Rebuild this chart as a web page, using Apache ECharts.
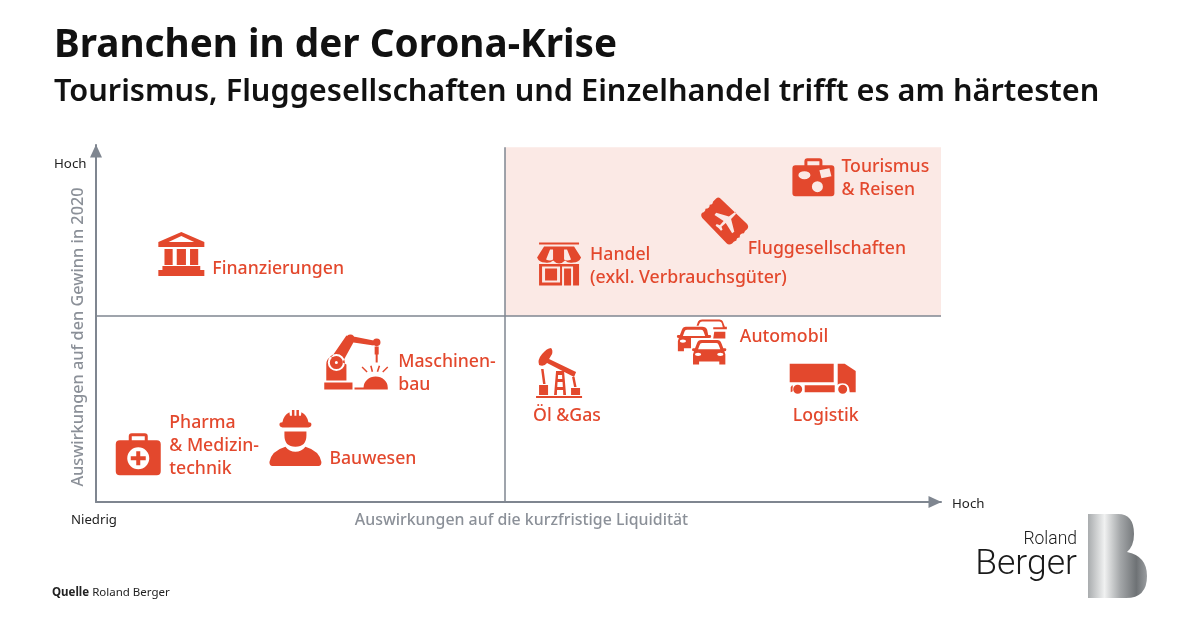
<!DOCTYPE html>
<html lang="de">
<head>
<meta charset="utf-8">
<style>html,body{margin:0;padding:0;background:#fff}#c{width:1200px;height:630px}</style>
<script src="https://cdn.jsdelivr.net/npm/echarts@6/dist/echarts.min.js"></script>
</head>
<body>
<div id="c"></div>
<script>
// ---- data ----
const names = ['Tourismus\n& Reisen','Fluggesellschaften','Handel\n(exkl. Verbrauchsgüter)','Finanzierungen','Maschinen-\nbau','Pharma\n& Medizin-\ntechnik','Bauwesen','Öl &Gas','Automobil','Logistik'];
const liquidity = [84.9,74.4,54.8,10.1,30.8,5.0,23.6,54.8,71.7,86.0];
const profit = [91.0,78.7,66.7,69.5,39.2,13.4,17.9,36.1,44.8,34.5];
const midX = 48.4;
const midY = 52.1;
const xTitle = 'Auswirkungen auf die kurzfristige Liquidität';
const yTitle = 'Auswirkungen auf den Gewinn in 2020';

// ---- styling ----
const RED = '#e3482d', GREY = '#7f8690', FONT = '"Noto Sans", sans-serif';
const car = (x,y) => `M${x+9} ${y}h16q3 0 4 3l2 5h2q1 0 1 1.5q0 1.5 -2 1.5l1 3v10h-6v-3h-20v3h-6v-10l1 -3q-2 0 -2 -1.5q0 -1.5 1 -1.5h2l2 -5q1 -3 4 -3z`
  + `M${x+10} ${y+3}q-2 0 -2.5 2l-1.5 4h22l-1.5 -4q-.5 -2 -2.5 -2z`
  + `M${x+3} ${y+14}a3 1.6 0 1 0 6 0a3 1.6 0 1 0 -6 0z`
  + `M${x+25} ${y+14}a3 1.6 0 1 0 6 0a3 1.6 0 1 0 -6 0z`;
const icons = [
 // suitcase
 'M12 7V3Q12 0 15 0H27Q30 0 30 3V7H27V3H15V7Z M3 7H39Q42 7 42 10V35Q42 38 39 38H3Q0 38 0 35V10Q0 7 3 7Z M6 17a6 4 0 1 0 12 0a6 4 0 1 0 -12 0z M27 12L29 20L39 18L37 10Z M19.5 28.5a5.5 5.5 0 1 0 11 0a5.5 5.5 0 1 0 -11 0z',
 // ticket
 'M15 2Q17 0 19 2L44 27Q46 30 44 32Q41 34 41 36Q37 36 37 40Q34 40 34 43Q31 44 30 46Q27 48 25 46L2 21Q0 18 2 16Q5 15 5 12Q9 12 9 8Q12 8 12 5Z M33 15L27 19.5L15 16L13.5 18L22 24L18.5 28L15.5 27L14.5 28.5L17.5 31L19.5 33.5L21 32.5L20 29.5L24 26L30 36L32 34.5L29 22L33.5 17Z',
 // shop
 'M2 0H42V2H2Z M7 4H37L44 15Q42 20 36 20Q31 21 28 18Q25 21 22 21Q19 21 16 18Q13 21 8 20Q2 20 0 15Z M13 7L9 17Q13 19 16 17L16 7Z M27 7L27 17Q30 19 34 17L30 7Z M2 21.5H42V43H2Z M5 24V40H23V24Z M8 26H20V38H8Z M25 24V43H36V24Z M27 26H34V43H27Z',
 // bank
 'M22.5 0L45 10V15H0V10Z M22.5 4L10 10H35Z M6 17H14V33H6Z M18 17H27V33H18Z M31 17H39V33H31Z M4 34H41V38H45V44H0V38H4Z',
 // robot + spark
 'M0 48H28V55H0Z M2 46V30Q2 24 7 22L22 30V46Z M3.5 28a8.5 8.5 0 1 0 17 0a8.5 8.5 0 1 0 -17 0z M5.5 28a6.5 6.5 0 1 1 13 0a6.5 6.5 0 1 1 -13 0z M10.5 28a1.5 1.5 0 1 0 3 0a1.5 1.5 0 1 0 -3 0z M7 23L22 1L30 6L18 28Z M26 0a4.5 4.5 0 1 1 -.01 0z M29 2L49 6V11L29 8Z M52 4a3.8 3.8 0 1 1 -.01 0z M50 12H54V20H53V28H51V20H50Z M30 53H39A12 11 0 0 1 63 53V55H30Z M37 33L38 32L43 37L42 38Z M45.5 31.5L47 31L48.5 37L47 37.5Z M54 31L55.5 31.5L53.5 37.5L52 37Z M62.5 32L63.5 33L58.5 38L57.5 37Z',
 // medical kit
 'M13 7V3Q13 0 16 0H29Q32 0 32 3V7H29V3H16V7Z M4 7H41Q45 7 45 11V38Q45 42 41 42H4Q0 42 0 38V11Q0 7 4 7Z M11.5 25a11 11 0 1 0 22 0a11 11 0 1 0 -22 0z M20.5 18H24.5V23H30V27H24.5V32H20.5V27H15V23H20.5Z',
 // worker
 'M10 15Q10 13 13 13Q14 6 20 3L20.5 6.5H22.5L22.5 1H25V6.5H27V1H29.5V6.5H31.5L32 3Q38 6 39 13Q42 13 42 15Q42 18 39 18H13Q10 18 10 15Z M15 22H37V26Q37 37 26 37Q15 37 15 26Z M0 52Q2 41 16 37Q20 42 26 42Q32 42 36 37Q50 41 52 52Q52 56 49 56H3Q0 56 0 52Z',
 // pumpjack
 'M0 48H46V50H0Z M3 37H12V47H3Z M35 40H44V47H35Z M3 17Q1 12 6 6Q11 0 15 0Q17 2 16 6L13 11L40 24L38 29L11 15Q8 19 3 17Z M5 21H7.5L9.5 36H7Z M36 29H38.5L40.5 39H38Z M20 23H28L30 47H18Z M22 27L21.8 31H26.2L26 27Z M21.5 34L21.2 39H26.8L26.5 34Z M21 42L20.8 47H27.2L27 42Z',
 // cars
 car(15,20)
  + 'M9 7H25Q29 7 30 10L31 15H33Q34 15 34 16.5Q34 18 32 18H14V28H7V31H1V21L2 18Q0 18 0 16.5Q0 15 1 15H3L5 10Q6 7 9 7Z M10 10Q8 10 7.5 12L6 16H28L26.5 12Q26 10 24 10Z M3 21a3 1.6 0 1 0 6 0a3 1.6 0 1 0 -6 0z'
  + 'M19.5 6L21 2Q22 0 25 0H42Q45 0 46 3L47.5 7H49.5V9.5H36V7.5H45.5L44.5 3.5Q44 2 42 2H25Q23 2 22.5 3.5L21.5 6Z M37 12H48V18.5H36Z',
 // truck
 'M0 0H44V18H0Z M48 0H55L66 7V28H60Q60 19 53 19Q48 19 48 21Z M53 20.5a4.5 4.5 0 1 1 -.01 0z M8 20.5a4.5 4.5 0 1 1 -.01 0z M15 21H45V28H15Z M1 23Q2 21 3 21V23Q2.5 25 3 27L1 28Z'
].map(p => 'path://' + p);
const iconSizes = [[42,38],[47,47],[44,43],[46,44],[64,55],[45,42],[52,56],[46,50],[50,45],[66,30]];
const labelOffsets = [[28,1],[23,28],[31,2.5],[31,15],[42,11],[31,-8],[34,21],[-26,43],[38,-5],[-30,37]];
const LOGO = 'M0 0H30Q46 0 46 20Q46 32 39 38Q59 42 59 62Q59 84 38 84H0Z';

const axisLine = {
  show:true, onZero:false,
  symbol:['none','triangle'], symbolSize:[12,13], symbolOffset:[0,-6],
  lineStyle:{color:GREY,width:2}
};
const plain = (name) => ({
  type:'value', min:0, max:100, name, nameLocation:'middle',
  axisLine, axisTick:{show:false}, axisLabel:{show:false}, splitLine:{show:false}
});
const txt = (x,y,text,size,color,extra) => ({type:'text',x,y,z:10,style:Object.assign({text,fontSize:size,fontFamily:FONT,fill:color},extra||{})});

const chart = echarts.init(document.getElementById('c'),null,{renderer:'canvas'});
chart.setOption({
  animation:false,
  backgroundColor:'#fff',
  title:[
    {text:'Branchen in der Corona-Krise',left:49,top:21,textStyle:{fontFamily:FONT,fontSize:38.7,fontWeight:700,color:'#111'}},
    {text:'Tourismus, Fluggesellschaften und Einzelhandel trifft es am härtesten',left:49,top:72,textStyle:{fontFamily:FONT,fontSize:30.7,fontWeight:600,color:'#111'}}
  ],
  grid:{left:96,top:145,width:845,height:357,containLabel:false},
  xAxis:Object.assign(plain(xTitle),{nameGap:10,nameTextStyle:{color:'#8b9098',fontSize:15.9,fontWeight:500,fontFamily:FONT,padding:[0,0,0,6]}}),
  yAxis:Object.assign(plain(yTitle),{nameGap:10,nameTextStyle:{color:'#8b9098',fontSize:16.3,fontWeight:500,fontFamily:FONT,padding:[0,27,0,0]}}),
  series:[{
    type:'scatter',
    z:5,
    data:names.map((n,i)=>({
      name:n,
      value:[liquidity[i],profit[i]],
      symbol:icons[i],
      symbolSize:iconSizes[i],
      label:{offset:labelOffsets[i]}
    })),
    itemStyle:{color:RED,opacity:1},
    label:{show:true,position:'inside',align:'left',verticalAlign:'middle',formatter:'{b}',color:RED,fontFamily:FONT,fontSize:17.7,fontWeight:500,lineHeight:23},
    markArea:{silent:true,z:1,itemStyle:{color:'#fbe9e5'},data:[[{xAxis:midX,yAxis:midY},{xAxis:100,yAxis:99.4}]]},
    markLine:{silent:true,z:2,symbol:'none',label:{show:false},lineStyle:{color:GREY,width:1.5,type:'solid'},
      data:[[{xAxis:midX,yAxis:0},{xAxis:midX,yAxis:99.4}],{yAxis:midY}]}
  },{
    type:'custom',
    coordinateSystem:'none',
    silent:true,
    z:6,
    data:[0],
    renderItem:()=>({type:'path',shape:{pathData:LOGO,layout:'cover',x:1088,y:514,width:59,height:84},
      style:{fill:new echarts.graphic.LinearGradient(0,0,1,0,[{offset:0,color:'#a9acae'},{offset:.28,color:'#f0f1f1'},{offset:.55,color:'#a3a6a8'},{offset:.82,color:'#6e7275'},{offset:1,color:'#9a9da0'}])}})
  }],
  graphic:[
    txt(54,158,'Hoch',13.3,'#222'),
    txt(71,514,'Niedrig',13.2,'#222'),
    txt(952,498,'Hoch',13.3,'#222'),
    txt(52,587,'{b|Quelle} {n|Roland Berger}',11.5,'#222',{rich:{b:{fontWeight:700,fontSize:11.5,fontFamily:FONT,fill:'#222'},n:{fontSize:11.5,fontFamily:FONT,fill:'#222'}}}),
    {type:'text',x:1077,y:531,z:10,style:{text:'Roland',fontSize:17.5,fontWeight:300,fontFamily:'Roboto, sans-serif',fill:'#1a1a1a',align:'right'}},
    {type:'text',x:1077,y:547,z:10,style:{text:'Berger',fontSize:35.5,fontWeight:300,fontFamily:'Roboto, sans-serif',fill:'#1a1a1a',align:'right'}}
  ]
});
</script>
</body>
</html>
